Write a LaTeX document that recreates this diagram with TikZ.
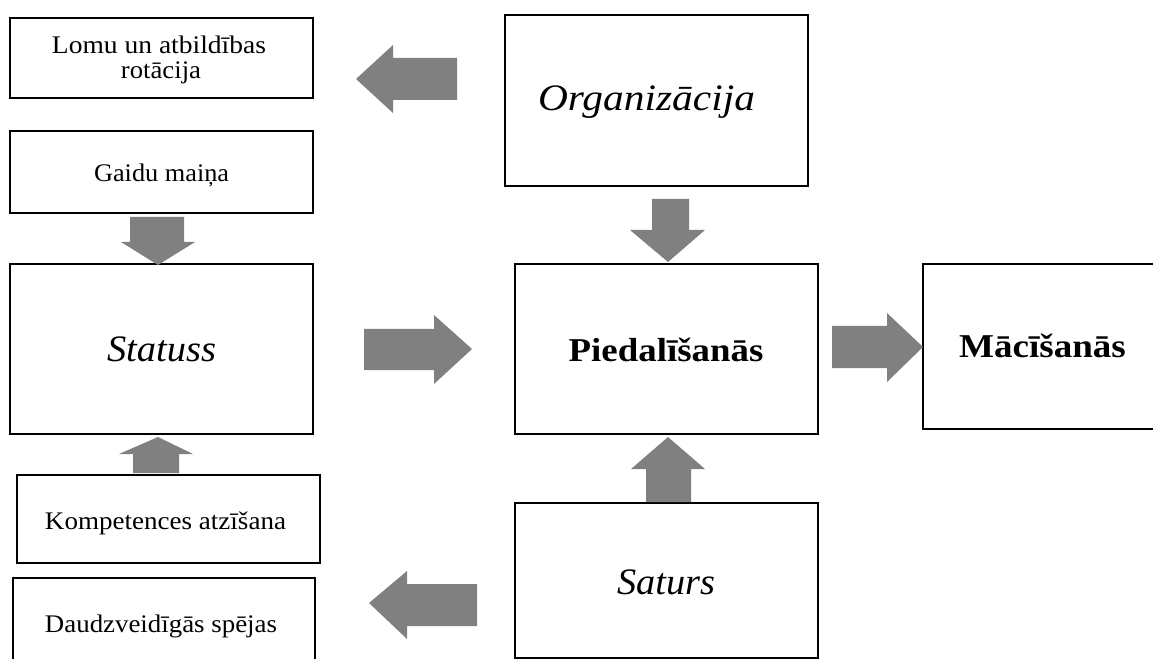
\documentclass[tikz,border=0pt]{standalone}
\usepackage{fontspec}
\setmainfont{Liberation Serif}
\usepackage{graphicx}
\definecolor{arrowgray}{RGB}{128,128,128}
\newcommand{\fitw}[2]{\resizebox{#1}{\height}{#2}}
\newcommand{\mybox}[5]{\node[box,minimum width={(#4-#2)*0.75pt},minimum height={(#5-#3)*0.75pt}] (#1) at ({(#2+#4)/2},{(#3+#5)/2}) {};}
\begin{document}
\begin{tikzpicture}[x=0.75pt,y=-0.75pt,
  box/.style={draw=black,line width=1.5pt,inner sep=0pt,outer sep=0pt},
  blk/.style={fill=arrowgray,draw=none},
  lbl/.style={inner sep=0pt,anchor=base},
  small/.style={font=\fontsize{19}{22}\selectfont},
  ital/.style={font=\fontsize{28}{32}\selectfont\itshape},
  bld/.style={font=\fontsize{25}{30}\selectfont\bfseries}]
\useasboundingbox (0,0) rectangle (1153,659);
\clip (0,0) rectangle (1153,659);
% boxes
\mybox{lomu}{10}{18}{313}{98}
\mybox{gaidu}{10}{131}{313}{213}
\mybox{statuss}{10}{264}{313}{434}
\mybox{komp}{17}{475}{320}{563}
\mybox{daudz}{13}{578}{315}{668}
\mybox{org}{505}{15}{808}{186}
\mybox{pied}{515}{264}{818}{434}
\mybox{saturs}{515}{503}{818}{658}
\mybox{mac}{923}{264}{1162}{429}
% labels
\node[lbl,small] (tlomu1) at (159,54) {\fitw{160.5pt}{Lomu un atbildības}};
\node[lbl,small] (tlomu2) at (161,79) {\fitw{60pt}{rotācija}};
\node[lbl,small] (tgaidu) at (161.6,182) {\fitw{101.25pt}{Gaidu maiņa}};
\node[lbl,small] (tkomp) at (165.5,529) {\fitw{180.75pt}{Kompetences atzīšana}};
\node[lbl,small] (tdaudz) at (161,632) {\fitw{174pt}{Daudzveidīgās spējas}};
\node[lbl,ital] (tstatuss) at (161.5,361) {\fitw{81.75pt}{Statuss}};
\node[lbl,ital] (torg) at (646.5,111) {\fitw{162.75pt}{Organizācija}};
\node[lbl,ital] (tsaturs) at (666,594) {\fitw{73.5pt}{Saturs}};
\node[lbl,bld] (tpied) at (666,361) {\fitw{146pt}{Piedalīšanās}};
\node[lbl,bld] (tmac) at (1042.5,358) {\fitw{125pt}{Mācīšanās}};
% block arrows
\fill[blk] (457,58) -- (393,58) -- (393,45) -- (356,79) -- (393,113) -- (393,100) -- (457,100) -- cycle;
\fill[blk] (130,217) -- (184,217) -- (184,242) -- (195,242) -- (158,265) -- (121,242) -- (130,242) -- cycle;
\fill[blk] (652,199) -- (689,199) -- (689,230) -- (705,230) -- (668,262) -- (630,230) -- (652,230) -- cycle;
\fill[blk] (364,329) -- (434,329) -- (434,315) -- (472,349) -- (434,384) -- (434,370) -- (364,370) -- cycle;
\fill[blk] (832,326) -- (887,326) -- (887,313) -- (923,347) -- (887,382) -- (887,368) -- (832,368) -- cycle;
\fill[blk] (133,473) -- (133,454) -- (119,454) -- (158,437) -- (193,454) -- (179,454) -- (179,473) -- cycle;
\fill[blk] (646,502) -- (646,469) -- (631,469) -- (668,437) -- (705,469) -- (691,469) -- (691,502) -- cycle;
\fill[blk] (477,584) -- (407,584) -- (407,571) -- (369,603) -- (407,639) -- (407,626) -- (477,626) -- cycle;
\end{tikzpicture}
\end{document}
